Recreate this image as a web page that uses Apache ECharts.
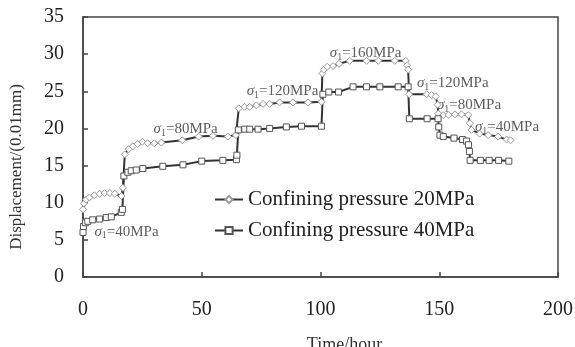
<!DOCTYPE html>
<html>
<head>
<meta charset="utf-8">
<script src="https://cdn.jsdelivr.net/npm/echarts@6/dist/echarts.min.js"></script>
<style>
  html, body { margin: 0; padding: 0; background: #fff; }
  #main { width: 575px; height: 347px; }
</style>
</head>
<body>
<div id="main"></div>
<script>
// Courbe 1 : pression de confinement 20 MPa
const time20 = [0, 0.4, 1.3, 2.7, 4.8, 7, 9.1, 11.3, 13.4, 16.2,
  16.8, 17.6, 19.2, 21, 23, 25, 27.2, 30, 33, 41.8,
  48.7, 54.7, 61, 64.4, 65.6, 68, 70.2, 73, 75.8, 78.6,
  82.8, 88.4, 94.8, 100.4, 100.8, 101.4, 102.8, 105.3, 107.8, 112.3,
  119.4, 124.3, 131.3, 135.9, 136.5, 136.9, 137.3, 144.7, 146.8, 148.5,
  149.3, 149.6, 151.7, 154, 156.6, 159.4, 162.2, 162.9, 163.6, 167,
  170.6, 174.8, 178.4, 180];
const disp20 = [9.1, 9.9, 10.4, 10.7, 11.0, 11.2, 11.3, 11.3, 11.2, 10.9,
  12.0, 16.5, 17.2, 17.6, 17.9, 18.2, 18.0, 18.0, 18.1, 18.4,
  18.9, 19.0, 18.9, 19.1, 22.7, 22.9, 22.9, 23.1, 23.3, 23.3,
  23.5, 23.5, 23.5, 23.6, 27.4, 27.9, 28.3, 28.4, 28.7, 29.1,
  29.1, 29.1, 29.1, 29.1, 28.5, 27.9, 24.6, 24.6, 24.5, 24.3,
  23.2, 22.0, 21.8, 21.8, 21.9, 21.9, 21.8, 20.7, 19.8, 19.3,
  19.1, 18.9, 18.5, 18.4];

// Courbe 2 : pression de confinement 40 MPa
const time40 = [0, 0.2, 1, 2, 4.1, 7, 9.8, 11.9, 16.1, 16.6,
  17.2, 18.9, 20.3, 22.4, 25.2, 33.6, 42.1, 50, 58.9, 64.6,
  64.8, 65.4, 68.1, 70.2, 73.7, 78.6, 85.6, 92, 100.4, 101,
  103.5, 107.6, 113.7, 119.4, 125, 132.7, 136.9, 137.4, 144.9, 149.5,
  149.8, 150.3, 151.7, 156.2, 159.8, 161.5, 162.3, 162.7, 163, 167.3,
  171, 175, 179.3];
const disp40 = [6.0, 6.8, 7.3, 7.5, 7.7, 7.8, 8.0, 8.1, 8.7, 9.1,
  13.6, 14.1, 14.3, 14.4, 14.6, 14.9, 15.1, 15.6, 15.7, 15.8,
  16.4, 19.8, 19.9, 19.9, 19.9, 20.0, 20.2, 20.3, 20.3, 24.6,
  24.9, 24.9, 25.6, 25.6, 25.6, 25.6, 25.6, 21.3, 21.3, 21.3,
  20.2, 19.1, 18.9, 18.7, 18.5, 18.3, 17.8, 16.9, 15.7, 15.7,
  15.7, 15.7, 15.6];

const seriesNames = ["Confining pressure 20MPa", "Confining pressure 40MPa"];

// Annotations des paliers de contrainte axiale
const noteStress = [40, 80, 120, 160, 120, 80, 40];
const noteTime = [4.8, 29.7, 68.9, 103.9, 140.6, 149, 165];
const noteDisp = [6.1, 19.9, 25.0, 30.1, 26.1, 23.1, 20.2];

const FONT = "Liberation Serif";
const pair = (xs, ys) => xs.map((x, i) => [x, ys[i]]);

const chart = echarts.init(document.getElementById("main"));

chart.setOption({
  backgroundColor: "#fff",
  animation: false,
  grid: {
    left: 83, right: 17, top: 17, bottom: 70,
    show: true, borderColor: "#444", borderWidth: 1.5,
    outerBoundsMode: "none"
  },
  legend: {
    data: seriesNames,
    orient: "vertical",
    left: 209, top: 184,
    itemWidth: 28, itemHeight: 9, itemGap: 10,
    textStyle: { fontFamily: FONT, fontSize: 21, color: "#222" }
  },
  xAxis: {
    type: "value", min: 0, max: 200, interval: 50,
    name: "Time/hour", nameLocation: "middle", nameGap: 59,
    nameTextStyle: { fontFamily: FONT, fontSize: 18, color: "#333", padding: [0, 0, 0, 48] },
    axisLine: { lineStyle: { color: "#444", width: 1.5 } },
    axisTick: { inside: true, length: 5, lineStyle: { color: "#444", width: 1.5 } },
    axisLabel: { fontFamily: FONT, fontSize: 20, color: "#222", margin: 23 },
    splitLine: { show: false }
  },
  yAxis: {
    type: "value", min: 0, max: 35, interval: 5,
    name: "Displacement/(0.01mm)", nameLocation: "middle", nameGap: 58,
    nameTextStyle: { fontFamily: FONT, fontSize: 17, color: "#333", padding: [0, 40, 0, 0] },
    axisLine: { lineStyle: { color: "#444", width: 1.5 } },
    axisTick: { inside: true, length: 5, lineStyle: { color: "#444", width: 1.5 } },
    axisLabel: { fontFamily: FONT, fontSize: 20, color: "#222", margin: 19 },
    splitLine: { show: false }
  },
  series: [
    {
      name: seriesNames[0], type: "line",
      data: pair(time20, disp20),
      symbol: "diamond", symbolSize: 7, showAllSymbol: true,
      lineStyle: { color: "#333", width: 2 },
      itemStyle: { color: "#fff", borderColor: "#999", borderWidth: 1 }
    },
    {
      name: seriesNames[1], type: "line",
      data: pair(time40, disp40),
      symbol: "rect", symbolSize: 6, showAllSymbol: true,
      lineStyle: { color: "#333", width: 2 },
      itemStyle: { color: "#fff", borderColor: "#555", borderWidth: 1 }
    },
    {
      name: "notes", type: "scatter", silent: true,
      symbolSize: 0,
      data: noteTime.map((t, i) => [t, noteDisp[i], noteStress[i]]),
      label: {
        show: true, position: "right", distance: 0,
        formatter: (p) => "{s|σ}{sub|1}{t|=" + p.value[2] + "MPa}",
        rich: {
          s: { fontFamily: FONT, fontStyle: "italic", fontSize: 15, color: "#333", lineHeight: 18 },
          sub: { fontFamily: FONT, fontSize: 10, color: "#333", lineHeight: 18, verticalAlign: "bottom" },
          t: { fontFamily: FONT, fontSize: 15, color: "#333", lineHeight: 18 }
        }
      }
    }
  ]
});
</script>
</body>
</html>
